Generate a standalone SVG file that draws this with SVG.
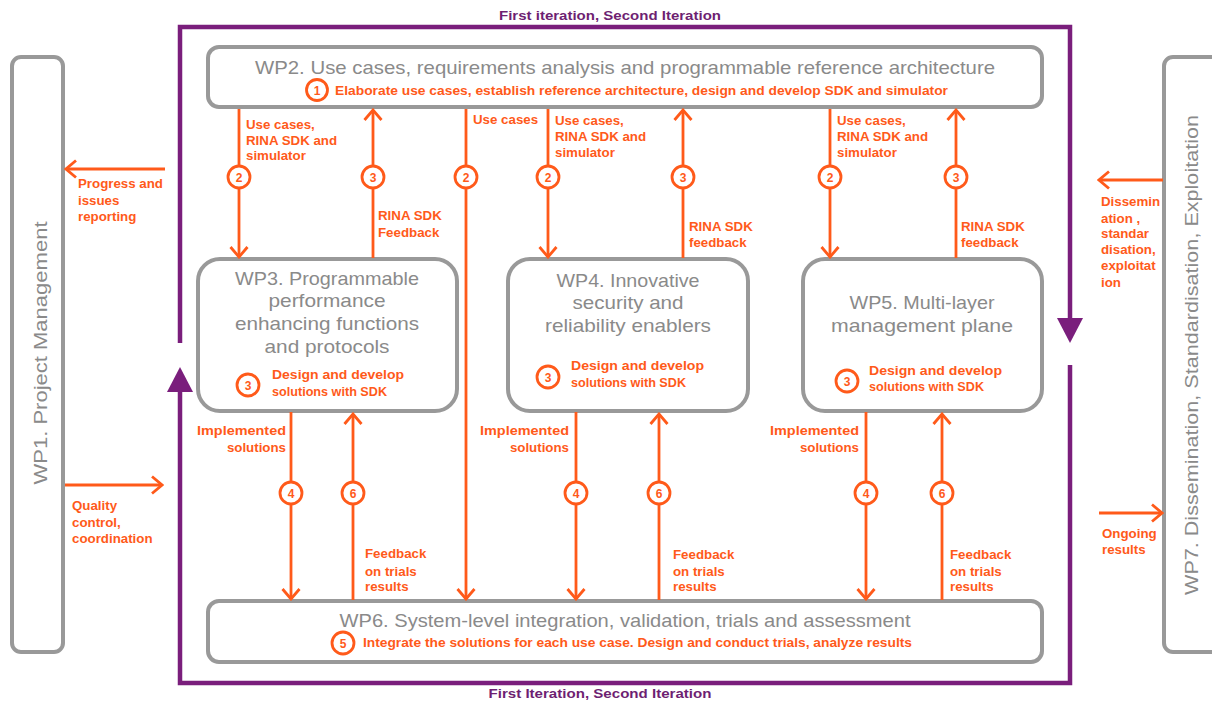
<svg xmlns="http://www.w3.org/2000/svg" width="1212" height="702" viewBox="0 0 1212 702">
<style>
.box{fill:#fff;stroke:#999;stroke-width:4}
.title{font-family:"Liberation Sans",Arial,sans-serif;font-size:18.5px;fill:#8a8a8a;text-anchor:middle}
.lbl{font-family:"Liberation Sans",Arial,sans-serif;font-size:13.3px;font-weight:bold;fill:#ff5a1a}
.end{text-anchor:end}
.num{font-family:"Liberation Sans",Arial,sans-serif;font-size:12px;font-weight:bold;fill:#ff5a1a;text-anchor:middle}
.circ{fill:#fff;stroke:#ff5a1a;stroke-width:2.8}
.ol{stroke:#ff5a1a;stroke-width:2.8;fill:none}
.pl{stroke:#7a1e7c;stroke-width:4.5;fill:none}
.iter{font-family:"Liberation Sans",Arial,sans-serif;font-size:13.5px;font-weight:bold;fill:#6e1f72;text-anchor:middle}
</style>
<defs>
<marker id="chev" markerUnits="userSpaceOnUse" viewBox="-14 -11 16 22" refX="0" refY="0" markerWidth="16" markerHeight="22" orient="auto">
<path d="M-10,-8.5 L0,0 L-10,8.5" fill="none" stroke="#ff5a1a" stroke-width="2.8"/>
</marker>
</defs>

<!-- purple iteration loop -->
<g id="iteration-loop">
<path class="pl" d="M180,343 V27 H1070 V320"/>
<polygon points="1057,318 1083,318 1070,343" fill="#7a1e7c"/>
<path class="pl" d="M1070,365 V683 H180 V390"/>
<polygon points="167,392 193,392 180,367" fill="#7a1e7c"/>
<text class="iter" x="610" y="20" textLength="222" lengthAdjust="spacingAndGlyphs">First iteration, Second Iteration</text>
<text class="iter" x="600" y="698" textLength="223" lengthAdjust="spacingAndGlyphs">First Iteration, Second Iteration</text>
</g>

<g id="WP1">
<rect class="box" x="12" y="57" width="51" height="595" rx="9"/>
<text class="title" transform="translate(47,353) rotate(-90)" font-size="20" textLength="263" lengthAdjust="spacingAndGlyphs">WP1. Project Management</text>
</g>

<g id="WP7">
<rect class="box" x="1164" y="57" width="60" height="595" rx="9"/>
<text class="title" transform="translate(1198,355) rotate(-90)" font-size="20" textLength="480" lengthAdjust="spacingAndGlyphs">WP7. Dissemination, Standardisation, Exploitation</text>
</g>

<g id="WP2">
<rect class="box" x="208" y="47" width="834" height="60" rx="11"/>
<text class="title" x="625" y="74" textLength="740" lengthAdjust="spacingAndGlyphs">WP2. Use cases, requirements analysis and programmable reference architecture</text>
<circle class="circ" cx="317" cy="90" r="10.5"/>
<text class="num" x="317" y="94.5">1</text>
<text class="lbl" x="335" y="95" textLength="613" lengthAdjust="spacingAndGlyphs">Elaborate use cases, establish reference architecture, design and develop SDK and simulator</text>
</g>

<g id="WP3">
<rect class="box" x="198" y="259" width="259" height="152" rx="22"/>
<text class="title" x="327" y="285" textLength="184" lengthAdjust="spacingAndGlyphs">WP3. Programmable</text>
<text class="title" x="327" y="307" textLength="117" lengthAdjust="spacingAndGlyphs">performance</text>
<text class="title" x="327" y="330" textLength="184" lengthAdjust="spacingAndGlyphs">enhancing functions</text>
<text class="title" x="327" y="353" textLength="125" lengthAdjust="spacingAndGlyphs">and protocols</text>
<circle class="circ" cx="248" cy="385" r="11"/>
<text class="num" x="248" y="389.5">3</text>
<text class="lbl" x="272" y="379" textLength="132" lengthAdjust="spacingAndGlyphs">Design and develop</text>
<text class="lbl" x="272" y="396" textLength="115" lengthAdjust="spacingAndGlyphs">solutions with SDK</text>
</g>

<g id="WP4">
<rect class="box" x="508" y="259" width="240" height="152" rx="22"/>
<text class="title" x="628" y="287" textLength="143" lengthAdjust="spacingAndGlyphs">WP4. Innovative</text>
<text class="title" x="628" y="309" textLength="111" lengthAdjust="spacingAndGlyphs">security and</text>
<text class="title" x="628" y="332" textLength="166" lengthAdjust="spacingAndGlyphs">reliability enablers</text>
<circle class="circ" cx="548" cy="377" r="11"/>
<text class="num" x="548" y="381.5">3</text>
<text class="lbl" x="571" y="370" textLength="133" lengthAdjust="spacingAndGlyphs">Design and develop</text>
<text class="lbl" x="571" y="387" textLength="115" lengthAdjust="spacingAndGlyphs">solutions with SDK</text>
</g>

<g id="WP5">
<rect class="box" x="803" y="259" width="239" height="152" rx="22"/>
<text class="title" x="922" y="309" textLength="145" lengthAdjust="spacingAndGlyphs">WP5. Multi-layer</text>
<text class="title" x="922" y="332" textLength="182" lengthAdjust="spacingAndGlyphs">management plane</text>
<circle class="circ" cx="847" cy="381" r="11"/>
<text class="num" x="847" y="385.5">3</text>
<text class="lbl" x="869" y="375" textLength="133" lengthAdjust="spacingAndGlyphs">Design and develop</text>
<text class="lbl" x="869" y="391" textLength="115" lengthAdjust="spacingAndGlyphs">solutions with SDK</text>
</g>

<g id="WP6">
<rect class="box" x="208" y="601" width="834" height="61" rx="11"/>
<text class="title" x="625" y="627" textLength="571" lengthAdjust="spacingAndGlyphs">WP6. System-level integration, validation, trials and assessment</text>
<circle class="circ" cx="343" cy="643" r="11"/>
<text class="num" x="343" y="647.5">5</text>
<text class="lbl" x="363" y="647" textLength="549" lengthAdjust="spacingAndGlyphs">Integrate the solutions for each use case. Design and conduct trials, analyze results</text>
</g>

<g id="connectors">
<!-- WP1 -->
<line class="ol" x1="165" y1="169" x2="66" y2="169" marker-end="url(#chev)"/>
<text class="lbl" x="78" y="188">Progress and</text>
<text class="lbl" x="78" y="205">issues</text>
<text class="lbl" x="78" y="221">reporting</text>
<line class="ol" x1="65" y1="485" x2="162" y2="485" marker-end="url(#chev)"/>
<text class="lbl" x="72" y="510">Quality</text>
<text class="lbl" x="72" y="527">control,</text>
<text class="lbl" x="72" y="543">coordination</text>
<!-- WP7 -->
<line class="ol" x1="1163" y1="180" x2="1099" y2="180" marker-end="url(#chev)"/>
<text class="lbl" x="1101" y="206">Dissemin</text>
<text class="lbl" x="1101" y="223">ation ,</text>
<text class="lbl" x="1101" y="238">standar</text>
<text class="lbl" x="1101" y="254">disation,</text>
<text class="lbl" x="1101" y="270">exploitat</text>
<text class="lbl" x="1101" y="287">ion</text>
<line class="ol" x1="1099" y1="513" x2="1162" y2="513" marker-end="url(#chev)"/>
<text class="lbl" x="1102" y="538">Ongoing</text>
<text class="lbl" x="1102" y="554">results</text>

<!-- WP2 -> WP3 -->
<line class="ol" x1="239" y1="109" x2="239" y2="257" marker-end="url(#chev)"/>
<circle class="circ" cx="239" cy="177" r="11"/>
<text class="num" x="239" y="181.5">2</text>
<text class="lbl" x="246" y="129">Use cases,</text>
<text class="lbl" x="246" y="145">RINA SDK and</text>
<text class="lbl" x="246" y="160">simulator</text>
<line class="ol" x1="373" y1="258" x2="373" y2="110" marker-end="url(#chev)"/>
<circle class="circ" cx="373" cy="177" r="11"/>
<text class="num" x="373" y="181.5">3</text>
<text class="lbl" x="378" y="220">RINA SDK</text>
<text class="lbl" x="378" y="237">Feedback</text>
<!-- WP2 -> WP6 -->
<line class="ol" x1="466" y1="109" x2="466" y2="599" marker-end="url(#chev)"/>
<circle class="circ" cx="466" cy="177" r="11"/>
<text class="num" x="466" y="181.5">2</text>
<text class="lbl" x="473" y="124">Use cases</text>
<!-- WP2 -> WP4 -->
<line class="ol" x1="548" y1="109" x2="548" y2="257" marker-end="url(#chev)"/>
<circle class="circ" cx="548" cy="177" r="11"/>
<text class="num" x="548" y="181.5">2</text>
<text class="lbl" x="555" y="125">Use cases,</text>
<text class="lbl" x="555" y="141">RINA SDK and</text>
<text class="lbl" x="555" y="157">simulator</text>
<line class="ol" x1="683" y1="258" x2="683" y2="110" marker-end="url(#chev)"/>
<circle class="circ" cx="683" cy="177" r="11"/>
<text class="num" x="683" y="181.5">3</text>
<text class="lbl" x="689" y="231">RINA SDK</text>
<text class="lbl" x="689" y="247">feedback</text>
<!-- WP2 -> WP5 -->
<line class="ol" x1="830" y1="109" x2="830" y2="257" marker-end="url(#chev)"/>
<circle class="circ" cx="830" cy="177" r="11"/>
<text class="num" x="830" y="181.5">2</text>
<text class="lbl" x="837" y="125">Use cases,</text>
<text class="lbl" x="837" y="141">RINA SDK and</text>
<text class="lbl" x="837" y="157">simulator</text>
<line class="ol" x1="956" y1="258" x2="956" y2="110" marker-end="url(#chev)"/>
<circle class="circ" cx="956" cy="177" r="11"/>
<text class="num" x="956" y="181.5">3</text>
<text class="lbl" x="961" y="231">RINA SDK</text>
<text class="lbl" x="961" y="247">feedback</text>

<!-- WP3 <-> WP6 -->
<line class="ol" x1="291" y1="412" x2="291" y2="599" marker-end="url(#chev)"/>
<circle class="circ" cx="291" cy="493" r="11"/>
<text class="num" x="291" y="497.5">4</text>
<text class="lbl end" x="286" y="435" textLength="89" lengthAdjust="spacingAndGlyphs">Implemented</text>
<text class="lbl end" x="286" y="452">solutions</text>
<line class="ol" x1="353" y1="600" x2="353" y2="414" marker-end="url(#chev)"/>
<circle class="circ" cx="353" cy="493" r="11"/>
<text class="num" x="353" y="497.5">6</text>
<text class="lbl" x="365" y="558">Feedback</text>
<text class="lbl" x="365" y="576">on trials</text>
<text class="lbl" x="365" y="591">results</text>
<!-- WP4 <-> WP6 -->
<line class="ol" x1="576" y1="412" x2="576" y2="599" marker-end="url(#chev)"/>
<circle class="circ" cx="576" cy="493" r="11"/>
<text class="num" x="576" y="497.5">4</text>
<text class="lbl end" x="569" y="435" textLength="89" lengthAdjust="spacingAndGlyphs">Implemented</text>
<text class="lbl end" x="569" y="452">solutions</text>
<line class="ol" x1="659" y1="600" x2="659" y2="414" marker-end="url(#chev)"/>
<circle class="circ" cx="659" cy="493" r="11"/>
<text class="num" x="659" y="497.5">6</text>
<text class="lbl" x="673" y="559">Feedback</text>
<text class="lbl" x="673" y="576">on trials</text>
<text class="lbl" x="673" y="591">results</text>
<!-- WP5 <-> WP6 -->
<line class="ol" x1="866" y1="412" x2="866" y2="599" marker-end="url(#chev)"/>
<circle class="circ" cx="866" cy="493" r="11"/>
<text class="num" x="866" y="497.5">4</text>
<text class="lbl end" x="859" y="435" textLength="89" lengthAdjust="spacingAndGlyphs">Implemented</text>
<text class="lbl end" x="859" y="452">solutions</text>
<line class="ol" x1="942" y1="600" x2="942" y2="414" marker-end="url(#chev)"/>
<circle class="circ" cx="942" cy="493" r="11"/>
<text class="num" x="942" y="497.5">6</text>
<text class="lbl" x="950" y="559">Feedback</text>
<text class="lbl" x="950" y="576">on trials</text>
<text class="lbl" x="950" y="591">results</text>
</g>
</svg>
